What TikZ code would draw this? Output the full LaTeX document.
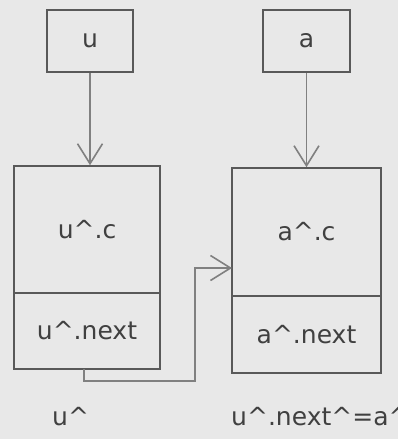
\documentclass[tikz,border=0pt]{standalone}
\usepackage{fontspec}
\setmainfont{DejaVu Sans}
\usetikzlibrary{arrows.meta}
\begin{document}
\begin{tikzpicture}[x=1pt,y=-1pt,
  box/.style={draw=black!65,line width=1.6pt,inner sep=0pt,font=\fontsize{25}{28}\selectfont,text=black!75},
  arr/.style={draw=black!50,line width=1.8pt,-{Straight Barb[length=20pt,width=25pt,line width=1.6pt]}},
  lbl/.style={inner sep=0pt,font=\fontsize{25}{28}\selectfont,text=black!75,anchor=base west}]
\fill[gray!18] (0,0) rectangle (398,439);
\useasboundingbox (0,0) rectangle (398,439);
\node[box,minimum width=86pt,minimum height=62pt] (u) at (90,41) {u};
\node[box,minimum width=87pt,minimum height=62pt] (a) at (306.5,41) {a};
\node[box,minimum width=146pt,minimum height=127pt] (lc) at (87,229.5) {u\textasciicircum.c};
\node[box,minimum width=146pt,minimum height=76pt] (ln) at (87,331) {u\textasciicircum.next};
\node[box,minimum width=149pt,minimum height=128pt] (rc) at (306.5,232) {a\textasciicircum.c};
\node[box,minimum width=149pt,minimum height=77pt] (rn) at (306.5,334.5) {a\textasciicircum.next};
\draw[arr] (u.south) -- (u.south |- lc.north);
\draw[arr] (a.south) -- (a.south |- rc.north);
\coordinate (c1) at (84,369);
\coordinate (c2) at (195,381);
\coordinate (tip) at (232,268);
\draw[arr] (c1) |- (c2) |- (tip);
\node[lbl] (l1) at (52,425) {u\textasciicircum};
\node[lbl] (l2) at (231,425) {u\textasciicircum.next\textasciicircum=a\textasciicircum};
\end{tikzpicture}
\end{document}
